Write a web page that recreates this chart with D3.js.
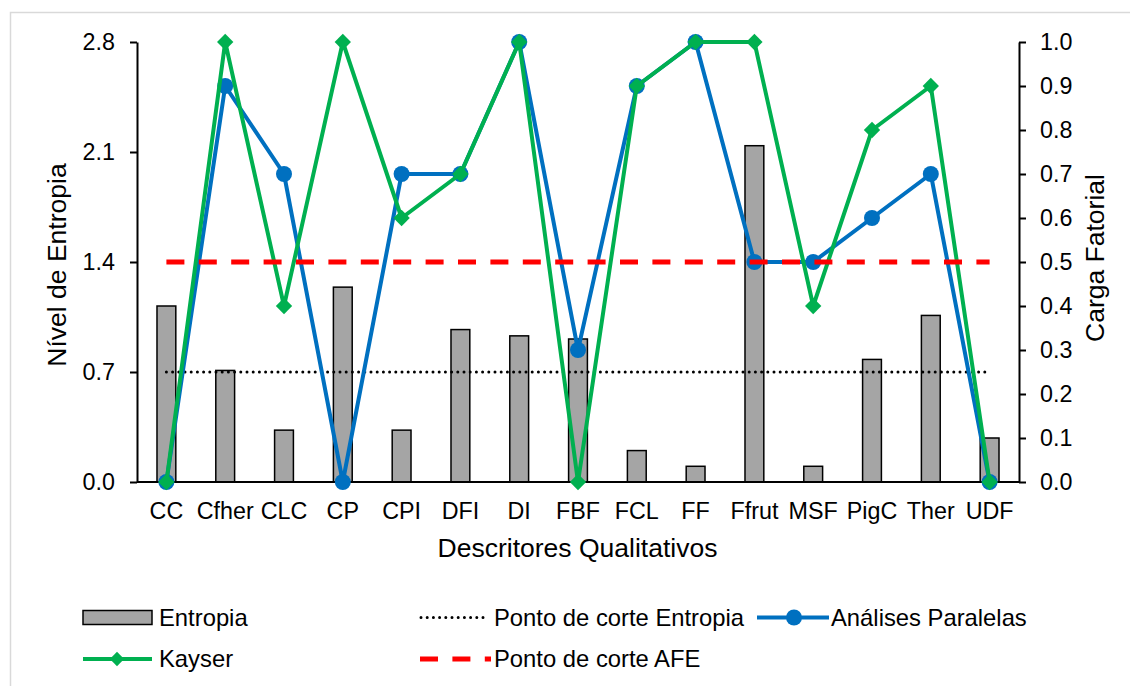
<!DOCTYPE html>
<html>
<head>
<meta charset="utf-8">
<script src="https://cdn.jsdelivr.net/npm/d3@7"></script>
<style>
  body { margin: 0; background: #fff; }
  svg { font-family: "Liberation Sans", Arial, sans-serif; }
</style>
</head>
<body>
<div id="chart"></div>
<script>
// Descritores e valores
const categories = ["CC", "Cfher", "CLC", "CP", "CPI", "DFI", "DI", "FBF", "FCL", "FF", "Ffrut", "MSF", "PigC", "Ther", "UDF"];
const entropia = [1.12, 0.71, 0.33, 1.24, 0.33, 0.97, 0.93, 0.91, 0.20, 0.10, 2.14, 0.10, 0.78, 1.06, 0.28];
const paralelas = [0, 0.9, 0.7, 0, 0.7, 0.7, 1.0, 0.3, 0.9, 1.0, 0.5, 0.5, 0.6, 0.7, 0];
const kayser = [0, 1.0, 0.4, 1.0, 0.6, 0.7, 1.0, 0, 0.9, 1.0, 1.0, 0.4, 0.8, 0.9, 0];
const corteEntropia = 0.7;
const corteAFE = 0.5;
const leftTicks = [0, 0.7, 1.4, 2.1, 2.8];
const rightTicks = [0, 0.1, 0.2, 0.3, 0.4, 0.5, 0.6, 0.7, 0.8, 0.9, 1.0];

const W = 1130, H = 686;
const plot = { left: 137, right: 1019, top: 42, bottom: 482 };
const tickFont = 23.3, titleFont = 26.5, legendFont = 23.8;

const svg = d3.select("#chart").append("svg")
    .attr("width", W)
    .attr("height", H);

// moldura do gráfico
svg.append("rect")
    .attr("x", 10.5).attr("y", 12.5)
    .attr("width", W + 20).attr("height", H + 20)
    .attr("fill", "#fff")
    .attr("stroke", "#d9d9d9")
    .attr("stroke-width", 1.5);

const x = d3.scaleBand()
    .domain(categories)
    .range([plot.left, plot.right])
    .paddingInner(0.68)
    .paddingOuter(0.34);
const cx = d => x(d) + x.bandwidth() / 2;

const yL = d3.scaleLinear().domain([0, 2.8]).range([plot.bottom, plot.top]);
const yR = d3.scaleLinear().domain([0, 1]).range([plot.bottom, plot.top]);

// barras de entropia
svg.append("g")
    .selectAll("rect")
    .data(categories)
    .join("rect")
    .attr("x", d => x(d))
    .attr("y", (d, i) => yL(entropia[i]))
    .attr("width", x.bandwidth())
    .attr("height", (d, i) => yL(0) - yL(entropia[i]))
    .attr("fill", "#a5a5a5")
    .attr("stroke", "#000")
    .attr("stroke-width", 1.5);

// eixos
const axisL = svg.append("g")
    .attr("transform", `translate(${plot.left},0)`)
    .call(d3.axisLeft(yL).tickValues(leftTicks).tickFormat(d3.format(".1f")).tickSize(7).tickSizeOuter(0).tickPadding(15));
const axisR = svg.append("g")
    .attr("transform", `translate(${plot.right},0)`)
    .call(d3.axisRight(yR).tickValues(rightTicks).tickFormat(d3.format(".1f")).tickSize(7).tickSizeOuter(0).tickPadding(14));
const axisB = svg.append("g")
    .attr("transform", `translate(0,${plot.bottom})`)
    .call(d3.axisBottom(x).tickSize(0).tickSizeOuter(0).tickPadding(20));

[axisL, axisR, axisB].forEach(a => {
    a.selectAll("path.domain").attr("stroke", "#000").attr("stroke-width", 2);
    a.selectAll("line").attr("stroke", "#000").attr("stroke-width", 2);
    a.selectAll("text").attr("font-size", tickFont).attr("fill", "#000")
        .attr("font-family", "'Liberation Sans', Arial, sans-serif");
});
axisB.select("path.domain").attr("d", `M${plot.left},0H${plot.right}`);

// linha de corte da entropia
const first = cx(categories[0]), last = cx(categories[categories.length - 1]);
svg.append("line")
    .attr("x1", first).attr("x2", last)
    .attr("y1", yL(corteEntropia)).attr("y2", yL(corteEntropia))
    .attr("stroke", "#000")
    .attr("stroke-width", 3)
    .attr("stroke-linecap", "round")
    .attr("stroke-dasharray", "0 6.2");

const line = d3.line().x((d, i) => cx(categories[i])).y(d => yR(d));

// análises paralelas
svg.append("path")
    .attr("d", line(paralelas))
    .attr("fill", "none")
    .attr("stroke", "#0070c0")
    .attr("stroke-width", 4)
    .attr("stroke-linejoin", "round");
svg.append("g").selectAll("circle")
    .data(paralelas)
    .join("circle")
    .attr("cx", (d, i) => cx(categories[i]))
    .attr("cy", d => yR(d))
    .attr("r", 8)
    .attr("fill", "#0070c0");

// Kayser
svg.append("path")
    .attr("d", line(kayser))
    .attr("fill", "none")
    .attr("stroke", "#00b050")
    .attr("stroke-width", 4)
    .attr("stroke-linejoin", "round");
const diamond = d3.symbol().type(d3.symbolDiamond2).size(170);
svg.append("g").selectAll("path")
    .data(kayser)
    .join("path")
    .attr("d", diamond)
    .attr("transform", (d, i) => `translate(${cx(categories[i])},${yR(d)})`)
    .attr("fill", "#00b050");

// linha de corte AFE
svg.append("line")
    .attr("x1", first).attr("x2", last)
    .attr("y1", yR(corteAFE)).attr("y2", yR(corteAFE))
    .attr("stroke", "#ff0000")
    .attr("stroke-width", 5)
    .attr("stroke-dasharray", "18 14.4");

// títulos dos eixos
svg.append("text")
    .attr("transform", `translate(66,265) rotate(-90)`)
    .attr("text-anchor", "middle")
    .attr("font-size", titleFont)
    .text("Nível de Entropia");
svg.append("text")
    .attr("transform", `translate(1104,258) rotate(-90)`)
    .attr("text-anchor", "middle")
    .attr("font-size", titleFont)
    .text("Carga Fatorial");
svg.append("text")
    .attr("x", 577.5)
    .attr("y", 557)
    .attr("text-anchor", "middle")
    .attr("font-size", titleFont)
    .text("Descritores Qualitativos");

// legenda
const row1 = 617.5, row2 = 659;
const legend = svg.append("g").attr("font-size", legendFont);
function legendText(tx, ty, label) {
    legend.append("text").attr("x", tx).attr("y", ty + 8).text(label);
}
// Entropia
legend.append("rect").attr("x", 83).attr("y", row1 - 7).attr("width", 69).attr("height", 14)
    .attr("fill", "#a5a5a5").attr("stroke", "#000").attr("stroke-width", 1.5);
legendText(159, row1, "Entropia");
// Ponto de corte Entropia
legend.append("line").attr("x1", 421).attr("x2", 489).attr("y1", row1).attr("y2", row1)
    .attr("stroke", "#000").attr("stroke-width", 3).attr("stroke-linecap", "round").attr("stroke-dasharray", "0 6.2");
legendText(494, row1, "Ponto de corte Entropia");
// Análises Paralelas
legend.append("line").attr("x1", 757).attr("x2", 829).attr("y1", row1).attr("y2", row1)
    .attr("stroke", "#0070c0").attr("stroke-width", 4);
legend.append("circle").attr("cx", 794).attr("cy", row1).attr("r", 8).attr("fill", "#0070c0");
legendText(831, row1, "Análises Paralelas");
// Kayser
legend.append("line").attr("x1", 83).attr("x2", 152).attr("y1", row2).attr("y2", row2)
    .attr("stroke", "#00b050").attr("stroke-width", 4);
legend.append("path").attr("d", d3.symbol().type(d3.symbolDiamond2).size(130))
    .attr("transform", `translate(117,${row2})`).attr("fill", "#00b050");
legendText(159, row2, "Kayser");
// Ponto de corte AFE
legend.append("line").attr("x1", 420).attr("x2", 491).attr("y1", row2).attr("y2", row2)
    .attr("stroke", "#ff0000").attr("stroke-width", 5).attr("stroke-dasharray", "18 14.4");
legendText(494, row2, "Ponto de corte AFE");
</script>
</body>
</html>
